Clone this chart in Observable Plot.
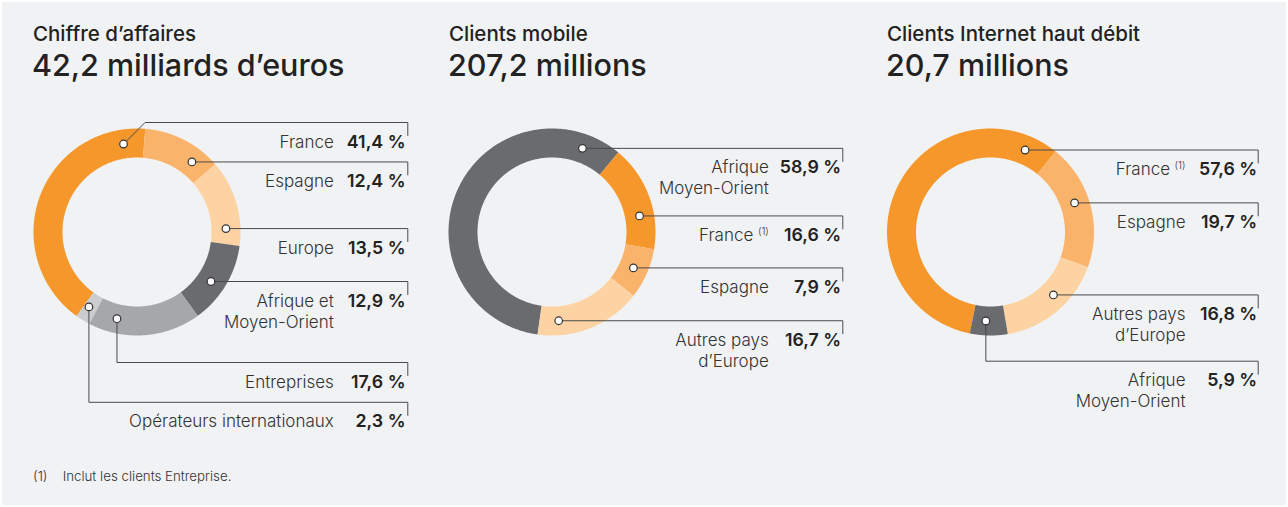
<!DOCTYPE html>
<html><head><meta charset="utf-8">
<script src="https://cdn.jsdelivr.net/npm/d3@7"></script>
<script src="https://cdn.jsdelivr.net/npm/@observablehq/plot@0.6"></script>
<style>
body{margin:0;background:#fff;}
#wrap{position:relative;width:1288px;height:507px;background:#fff;overflow:hidden;font-family:Inter,"Liberation Sans",sans-serif;}
#bg{position:absolute;left:2px;top:2px;width:1284px;height:503px;background:#f1f2f4;}
.t1{position:absolute;font-size:20.5px;font-weight:500;color:#222;line-height:20px;white-space:nowrap;}
.t2{position:absolute;font-size:30.5px;font-weight:500;color:#222;line-height:30.5px;white-space:nowrap;}
.panel{position:absolute;top:95px;}
.note{position:absolute;font-size:13.3px;font-weight:300;color:#333;line-height:14px;white-space:nowrap;}
</style></head>
<body><div id="wrap"><div id="bg"></div></div>
<script>
// ---- data ----
const titles = ["Chiffre d’affaires", "Clients mobile", "Clients Internet haut débit"];
const totals = ["42,2 milliards d’euros", "207,2 millions", "20,7 millions"];

const revenueCategories = ["France", "Espagne", "Europe", "Afrique et\nMoyen-Orient", "Entreprises", "Opérateurs internationaux"];
const revenueShares = [41.4, 12.4, 13.5, 12.9, 17.6, 2.3];
const revenueNotes = ["", "", "", "", "", ""];

const mobileCategories = ["Afrique\nMoyen-Orient", "France", "Espagne", "Autres pays\nd’Europe"];
const mobileShares = [58.9, 16.6, 7.9, 16.7];
const mobileNotes = ["", "(1)", "", ""];

const broadbandCategories = ["France", "Espagne", "Autres pays\nd’Europe", "Afrique\nMoyen-Orient"];
const broadbandShares = [57.6, 19.7, 16.8, 5.9];
const broadbandNotes = ["(1)", "", "", ""];

const footnoteMark = "(1)";
const footnoteText = "Inclut les clients Entreprise.";

// ---- styles ----
const ORANGE = "#f6972b", LORANGE = "#fab36a", PEACH = "#fdd3a3",
      DGRAY = "#6a6b6f", MGRAY = "#a6a7aa", LGRAY = "#cbccce";
const revenueColors = [ORANGE, LORANGE, PEACH, DGRAY, MGRAY, LGRAY];
const mobileColors = [DGRAY, ORANGE, LORANGE, PEACH];
const broadbandColors = [ORANGE, LORANGE, PEACH, DGRAY];

// ---- layout ----
const R_OUT = 103.5, R_IN = 74.5, R_MID = 89;
const PAGE_CY = 231.5, SVG_TOP = 95, SVG_H = 350;
const layouts = [
  {left: 2, width: 414, cx: 136.5, titleX: 33, start: 215.7, lineRight: 270.8, labelRight: 196.8, valueRight: 268.5,
   dotAngles: [-8.7, 38.1, 87.8, 123.8, 193, 212.7], routes: ["d","h","h","h","v","v"], lineYs: [-109.5, null, null, null, 130.5, 170.3]},
  {left: 416, width: 434, cx: 551.5, titleX: 449, start: 188, lineRight: 290.8, labelRight: 216.8, valueRight: 289.2,
   dotAngles: [20, 79.6, 113.8, 175.7], routes: ["h","h","h","h"], lineYs: [null, null, null, null]},
  {left: 850, width: 436, cx: 990, titleX: 887, start: 191.6, lineRight: 267.7, labelRight: 195, valueRight: 266.7,
   dotAngles: [22.9, 70.9, 135, 183], routes: ["h","h","h","v"], lineYs: [null, null, null, 129.2]}
];
const charts = [
  {cats: revenueCategories, vals: revenueShares, notes: revenueNotes, colors: revenueColors},
  {cats: mobileCategories, vals: mobileShares, notes: mobileNotes, colors: mobileColors},
  {cats: broadbandCategories, vals: broadbandShares, notes: broadbandNotes, colors: broadbandColors}
];

const fmt = v => v.toFixed(1).replace(".", ",") + " %";
const rad = d => d * Math.PI / 180;
const FONT = "Inter, 'Liberation Sans', sans-serif";

const wrap = document.getElementById("wrap");

function addDiv(cls, text, left, top) {
  const d = document.createElement("div");
  d.className = cls; d.textContent = text;
  d.style.left = left + "px"; d.style.top = top + "px";
  wrap.appendChild(d);
  return d;
}

charts.forEach((c, ci) => {
  const L = layouts[ci];
  addDiv("t1", titles[ci], L.titleX, 24.3);
  addDiv("t2", totals[ci], L.titleX - 1, 49.7);

  const total = d3.sum(c.vals);
  // ring polygons
  const ring = [];
  let a = L.start;
  c.cats.forEach((cat, i) => {
    const a0 = a, a1 = a + c.vals[i] / total * 360; a = a1;
    const n = Math.max(2, Math.ceil((a1 - a0) / 0.5));
    for (let k = 0; k <= n; k++) { const t = rad(a0 + (a1 - a0) * k / n); ring.push({key: cat, color: c.colors[i], x: R_OUT * Math.sin(t), y: -R_OUT * Math.cos(t)}); }
    for (let k = n; k >= 0; k--) { const t = rad(a0 + (a1 - a0) * k / n); ring.push({key: cat, color: c.colors[i], x: R_IN * Math.sin(t), y: -R_IN * Math.cos(t)}); }
  });

  const leaders = [], dots = [], labelRows = [], valueRows = [], noteRows = [];
  c.cats.forEach((cat, i) => {
    const t = rad(L.dotAngles[i]);
    const dx = R_MID * Math.sin(t), dy = -R_MID * Math.cos(t);
    const route = L.routes[i];
    const ly = route === "h" ? dy : L.lineYs[i];
    const pts = [[dx, dy]];
    if (route === "v") pts.push([dx, ly]);
    if (route === "d") pts.push([dx + (dy - ly), ly]);
    pts.push([L.lineRight, ly], [L.lineRight, ly + 13]);
    pts.forEach(([x, y]) => leaders.push({key: cat, x, y}));
    dots.push({x: dx, y: dy});
    const base = ly + 25;
    const shift = c.notes[i] ? 15.5 : 0;
    cat.split("\n").forEach((line, j) => labelRows.push({x: L.labelRight - shift, y: base + 21 * j, text: line}));
    valueRows.push({x: L.valueRight, y: base, text: fmt(c.vals[i])});
    if (c.notes[i]) noteRows.push({x: L.labelRight, y: base - 6, text: c.notes[i]});
  });

  const W = L.width;
  const svg = Plot.plot({
    width: W, height: SVG_H, margin: 0,
    x: {domain: [L.left - L.cx, L.left + W - L.cx], range: [0, W], axis: null},
    y: {domain: [SVG_TOP - PAGE_CY, SVG_TOP + SVG_H - PAGE_CY], range: [0, SVG_H], axis: null},
    color: {type: "identity"},
    style: {background: "transparent", fontFamily: FONT, overflow: "visible"},
    marks: [
      Plot.line(ring, {x: "x", y: "y", z: "key", fill: "color", stroke: "none", curve: "linear-closed"}),
      Plot.line(leaders, {x: "x", y: "y", z: "key", stroke: "#4a4a4a", strokeWidth: 1}),
      Plot.dot(dots, {x: "x", y: "y", r: 3.8, fill: "#fff", stroke: "#333", strokeWidth: 1.2}),
      Plot.text(labelRows, {x: "x", y: "y", text: "text", textAnchor: "end", lineAnchor: "bottom", fontSize: 17, fontWeight: 300, fill: "#333"}),
      Plot.text(valueRows, {x: "x", y: "y", text: "text", textAnchor: "end", lineAnchor: "bottom", fontSize: 17.8, fontWeight: 600, fill: "#222"}),
      Plot.text(noteRows, {x: "x", y: "y", text: "text", textAnchor: "end", lineAnchor: "bottom", fontSize: 10, fontWeight: 300, fill: "#333"})
    ]
  });
  const holder = document.createElement("div");
  holder.className = "panel";
  holder.style.left = L.left + "px";
  holder.appendChild(svg);
  wrap.appendChild(holder);
});

addDiv("note", footnoteMark, 33, 468.5);
addDiv("note", footnoteText, 62.7, 468.5);
</script></body></html>
